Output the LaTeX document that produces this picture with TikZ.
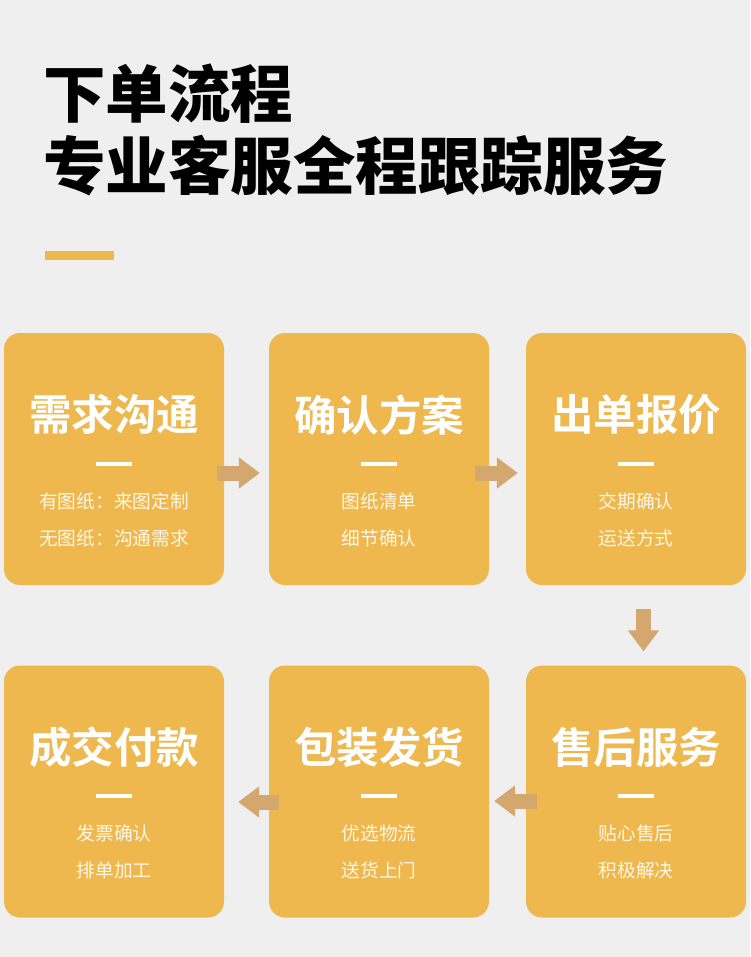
\documentclass[tikz,border=0pt]{standalone}
\usepackage{fontspec}
\setmainfont{Noto Sans CJK SC}[BoldFont={Noto Sans CJK SC Bold}]
\newfontfamily\titlefont{Noto Sans CJK SC Black}
\usepackage{xcolor}
\definecolor{pgbg}{RGB}{239,239,239}
\definecolor{pgorange}{RGB}{238,184,78}
\definecolor{pgtan}{RGB}{212,167,110}
\definecolor{pgcream}{RGB}{255,246,228}
\usetikzlibrary{arrows.meta,positioning,calc}

\begin{document}
\begin{tikzpicture}[x=1pt, y=-1pt,
  sbox/.style={rectangle, rounded corners=16pt, fill=pgorange,
               minimum width=220pt, minimum height=252pt, inner sep=0pt},
  shead/.style={inner sep=0pt, text=white, font=\fontsize{42.5}{42.5}\selectfont\bfseries},
  ssub/.style={inner sep=0pt, text=pgcream, align=center,
               font=\fontsize{18.7}{37}\selectfont},
  sdash/.style={fill=white},
  stitle/.style={anchor=west, inner sep=0pt, font=\fontsize{62.5}{62.5}\titlefont},
  barr/.style={draw=pgtan, line width=15pt, -{Triangle[length=21pt,width=30pt]}}
]
% Background
\fill[pgbg] (0,0) rectangle (750,957);

% Title
\node[stitle] (t1) at (43,94) {下单流程};
\node[stitle] (t2) at (43,166) {专业客服全程跟踪服务};
\fill[pgorange] (45,251) rectangle (114,260);

% Step boxes
\node[sbox] (s1) at (114,459) {};
\node[sbox] (s2) at (379,459) {};
\node[sbox] (s3) at (636,459) {};
\node[sbox] (s4) at (114,791.5) {};
\node[sbox] (s5) at (379,791.5) {};
\node[sbox] (s6) at (636,791.5) {};

% Box texts
\node[shead] (h1) at ($(s1.north)+(0,82)$) {需求沟通};
\node[shead] (h2) at ($(s2.north)+(0,82)$) {确认方案};
\node[shead] (h3) at ($(s3.north)+(0,82)$) {出单报价};
\node[shead] (h4) at ($(s4.north)+(0,82)$) {成交付款};
\node[shead] (h5) at ($(s5.north)+(0,82)$) {包装发货};
\node[shead] (h6) at ($(s6.north)+(0,82)$) {售后服务};

\fill[sdash] ($(s1.north)+(-18,129)$) rectangle ++(36,4);
\fill[sdash] ($(s2.north)+(-18,129)$) rectangle ++(36,4);
\fill[sdash] ($(s3.north)+(-18,129)$) rectangle ++(36,4);
\fill[sdash] ($(s4.north)+(-18,129)$) rectangle ++(36,4);
\fill[sdash] ($(s5.north)+(-18,129)$) rectangle ++(36,4);
\fill[sdash] ($(s6.north)+(-18,129)$) rectangle ++(36,4);

\node[ssub] (d1) at ($(s1.north)+(0,187)$) {有图纸：来图定制\\无图纸：沟通需求};
\node[ssub] (d2) at ($(s2.north)+(0,187)$) {图纸清单\\细节确认};
\node[ssub] (d3) at ($(s3.north)+(0,187)$) {交期确认\\运送方式};
\node[ssub] (d4) at ($(s4.north)+(0,187)$) {发票确认\\排单加工};
\node[ssub] (d5) at ($(s5.north)+(0,187)$) {优选物流\\送货上门};
\node[ssub] (d6) at ($(s6.north)+(0,187)$) {贴心售后\\积极解决};

% Arrows
\draw[barr] ($(s1.east)+(-7,14)$)   -- ($(s2.west)+(-9,14)$);
\draw[barr] ($(s2.east)+(-14,14)$)  -- ($(s3.west)+(-8,14)$);
\draw[barr] ($(s3.south)+(7.5,24)$) -- ($(s6.north)+(7.5,-14)$);
\draw[barr] ($(s6.west)+(11,9.5)$)  -- ($(s5.east)+(5,9.5)$);
\draw[barr] ($(s5.west)+(10,10.5)$) -- ($(s4.east)+(14,10.5)$);
\end{tikzpicture}
\end{document}
